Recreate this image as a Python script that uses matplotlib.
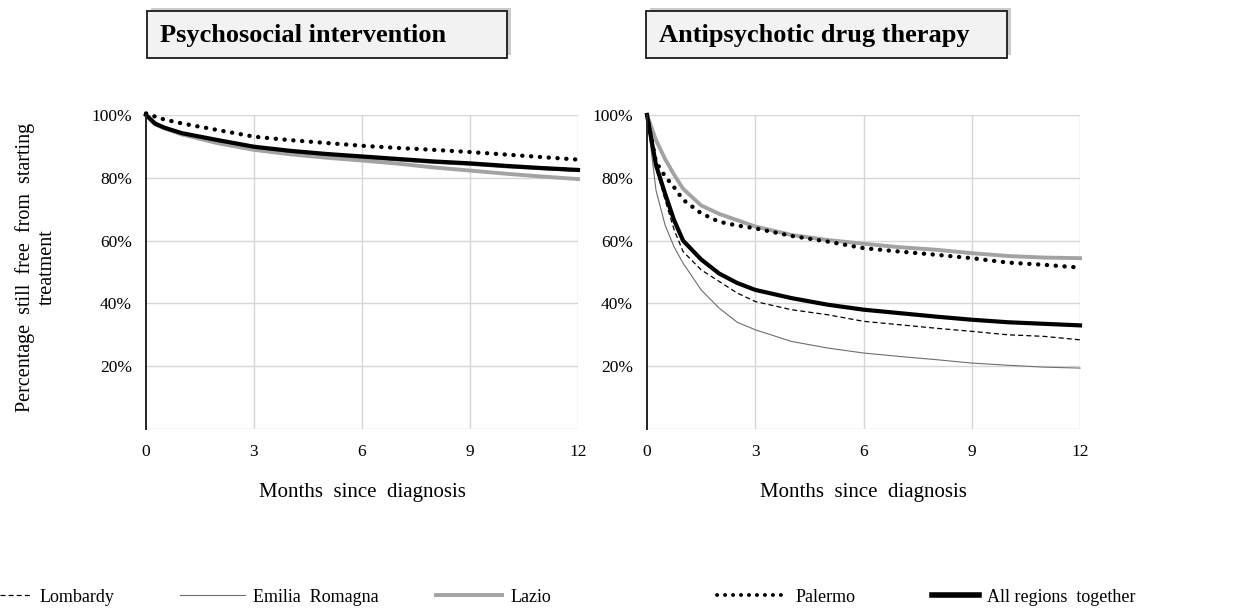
import matplotlib
matplotlib.use("Agg")
import matplotlib.pyplot as plt
from matplotlib.patches import Rectangle
from matplotlib.lines import Line2D
import matplotlib.patheffects as pe

plt.rcParams['font.family'] = ['Liberation Serif', 'DejaVu Serif']

# ---------------- data ----------------
months_psy = [0, 0.25, 0.5, 1, 2, 3, 4, 5, 6, 7, 8, 9, 10, 11, 12]
psy_lombardy = [100, 97.4, 96.2, 94.4, 92.2, 90.1, 88.8, 87.8, 87.0, 86.2, 85.4, 84.8, 84.0, 83.4, 82.8]
psy_emilia = [100, 97.1, 95.8, 93.9, 91.6, 89.4, 88.1, 87.1, 86.2, 85.4, 84.6, 84.0, 83.2, 82.6, 82.0]
psy_lazio = [100, 97.0, 95.8, 93.8, 91.0, 88.9, 87.5, 86.4, 85.5, 84.5, 83.3, 82.3, 81.3, 80.4, 79.6]
psy_palermo = [100.5, 99.5, 98.6, 97.3, 95.2, 93.1, 92.0, 91.1, 90.2, 89.5, 88.9, 88.2, 87.4, 86.6, 85.8]
psy_all = [100, 97.3, 96.0, 94.2, 92.0, 89.9, 88.6, 87.6, 86.8, 86.0, 85.2, 84.6, 83.8, 83.1, 82.5]

months_drug = [0, 0.25, 0.5, 0.75, 1, 1.5, 2, 2.5, 3, 4, 5, 6, 7, 8, 9, 10, 11, 12]
drug_lombardy = [100, 83, 73, 63.5, 56.5, 50.7, 47, 43.3, 40.6, 38, 36.4, 34.3, 33.2, 32.1, 31.1, 30, 29.5, 28.4]
drug_emilia = [100, 76, 65, 58, 52.8, 44.3, 38.5, 34, 31.6, 27.9, 25.8, 24.2, 23.1, 22.1, 21, 20.3, 19.7, 19.4]
drug_lazio = [100, 92, 86, 81, 76.5, 71.2, 68.5, 66.5, 64.5, 61.8, 60.2, 59, 57.9, 57.1, 56, 55.1, 54.6, 54.4]
drug_palermo = [100, 85, 80.5, 77, 73, 68.7, 66, 64.8, 63.9, 61.5, 59.7, 57.6, 56.5, 55.5, 54.4, 53, 52.3, 51.4]
drug_all = [100, 84, 75, 66.5, 60, 54, 49.5, 46.5, 44.3, 41.7, 39.6, 38, 36.9, 35.8, 34.8, 34, 33.5, 33]

x_ticks = [0, 3, 6, 9, 12]
y_ticks = [20, 40, 60, 80, 100]
y_ticklabels = ['20%', '40%', '60%', '80%', '100%']
titles = ['Psychosocial intervention', 'Antipsychotic drug therapy']
region_names = ['Lombardy', 'Emilia  Romagna', 'Lazio', 'Palermo', 'All regions  together']

# ---------------- styles ----------------
styles = [
    dict(color='black', lw=0.9, ls=(0, (4, 2.5))),
    dict(color='#6e6e6e', lw=0.8, ls='-'),
    dict(color='#a3a3a3', lw=2.8, ls='-'),
    dict(color='black', lw=3.1, ls=(0, (0.05, 2.0)), dash_capstyle='round'),
    dict(color='black', lw=3.0, ls='-'),
]

fig = plt.figure(figsize=(12.58, 6.11), dpi=100)
W, H = 1258, 611

def fx(px):
    return px / W

def fy(py):
    return 1 - py / H

axes_px = [(146, 578), (647, 1080)]
top_px, bot_px = 115, 429
panels = [
    (months_psy, [psy_lombardy, psy_emilia, psy_lazio, psy_palermo, psy_all]),
    (months_drug, [drug_lombardy, drug_emilia, drug_lazio, drug_palermo, drug_all]),
]

for i, ((x0, x1), (months, series)) in enumerate(zip(axes_px, panels)):
    ax = fig.add_axes([fx(x0), fy(bot_px), fx(x1 - x0), (bot_px - top_px) / H])
    ax.set_xlim(0, 12)
    ax.set_ylim(0, 100)
    for s in ['top', 'right', 'bottom']:
        ax.spines[s].set_visible(False)
    ax.spines['left'].set_color('#222222')
    ax.spines['left'].set_linewidth(1.4)
    ax.spines['left'].set_zorder(5)
    for v in [3, 6, 9, 12]:
        ax.axvline(v, color='#d6d6d6', lw=1.0, zorder=0)
    for v in [0, 20, 40, 60, 80, 100]:
        ax.axhline(v, color='#d6d6d6', lw=1.0, zorder=0)
    ax.set_xticks(x_ticks)
    ax.set_xticklabels([str(t) for t in x_ticks], fontsize=12.5)
    ax.set_yticks(y_ticks)
    ax.set_yticklabels(y_ticklabels, fontsize=12.5)
    ax.tick_params(length=0)
    ax.tick_params(axis='y', pad=10)
    ax.tick_params(axis='x', pad=11)
    order = [2, 1, 0, 4, 3]
    for k in order:
        ax.plot(months, series[k], clip_on=False, zorder=3, **styles[k])
    ax.set_xlabel('Months  since  diagnosis', fontsize=15, labelpad=16)

    # title box
    bx0, bx1 = (147, 507) if i == 0 else (646, 1007)
    by0, by1 = 11, 58
    rect = Rectangle((fx(bx0), fy(by1)), fx(bx1 - bx0), (by1 - by0) / H,
                     transform=fig.transFigure, facecolor='#f2f2f2',
                     edgecolor='#1a1a1a', lw=1.3,
                     path_effects=[pe.SimplePatchShadow(offset=(3, 2), shadow_rgbFace='#999999', alpha=0.5),
                                   pe.Normal()])
    fig.patches.append(rect)
    fig.text(fx(bx0 + 13), fy((by0 + by1) / 2 + 1), titles[i], fontsize=19,
             fontweight='bold', ha='left', va='center')

fig.text(fx(36), fy(267), 'Percentage  still  free  from  starting\ntreatment',
         rotation=90, ha='center', va='center', multialignment='center',
         fontsize=14.5, linespacing=1.25)

# legend entries
leg_x = [0, 180, 436, 717, 932]
hlen = [1.75, 3.6, 3.65, 3.9, 2.6]
for k in range(5):
    h = Line2D([], [], **styles[k])
    if k == 3:
        h.set_linewidth(2.8)
        h.set_linestyle((0, (0.05, 2.0)))
    if k == 4:
        h.set_linewidth(4)
    fig.legend([h], [region_names[k]], loc='center left',
               bbox_to_anchor=(fx(leg_x[k]), fy(597)), frameon=False,
               fontsize=13, handlelength=hlen[k], handletextpad=0.45,
               borderpad=0, borderaxespad=0)

fig.savefig('out.png', dpi=100)
